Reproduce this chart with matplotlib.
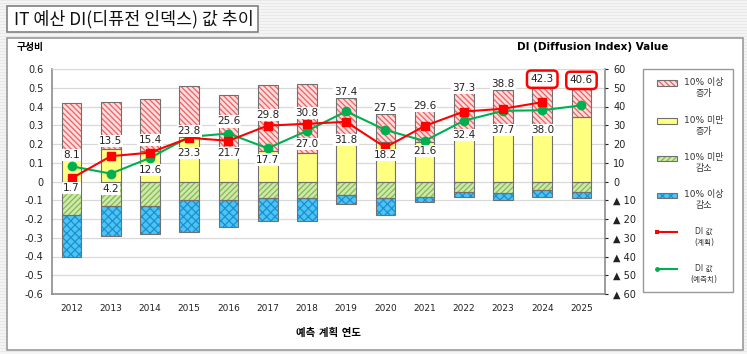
import numpy as np
import matplotlib
matplotlib.use("Agg")
import matplotlib.pyplot as plt
from matplotlib.patches import Rectangle
from matplotlib.lines import Line2D

plt.rcParams['font.family'] = ['DejaVu Sans', 'Noto Sans CJK KR']
plt.rcParams['hatch.linewidth'] = 0.9

# data
years = ['2012', '2013', '2014', '2015', '2016', '2017', '2018',
         '2019', '2020', '2021', '2022', '2023', '2024', '2025']
inc_big = [0.30, 0.25, 0.275, 0.27, 0.285, 0.35, 0.37, 0.21, 0.15, 0.20, 0.20, 0.21, 0.22, 0.155]
inc_small = [0.118, 0.175, 0.165, 0.24, 0.175, 0.163, 0.152, 0.234, 0.21, 0.21, 0.273, 0.28, 0.29, 0.345]
dec_small = [0.18, 0.13, 0.13, 0.10, 0.10, 0.09, 0.09, 0.07, 0.09, 0.08, 0.055, 0.06, 0.045, 0.055]
dec_big = [0.22, 0.16, 0.15, 0.17, 0.14, 0.12, 0.12, 0.05, 0.09, 0.03, 0.025, 0.04, 0.04, 0.035]
di_plan = [1.7, 13.5, 15.4, 23.3, 21.7, 29.8, 30.8, 31.8, 18.2, 29.6, 37.3, 38.8, 42.3]
di_fcst = [8.1, 4.2, 12.6, 23.8, 25.6, 17.7, 27.0, 37.4, 27.5, 21.6, 32.4, 37.7, 38.0, 40.6]

# label offsets (px, + = above marker)
plan_dy = [-9.5, 15, 13, -15, -12, 11, 10.5, -18, -7.5, 20, 24, 25, 23]
fcst_dy = [11, -15, -12, 6, 12, -11.5, -13, 19, 22, -10, -14, -19, -20, 25]
plan_boxed = [12]
fcst_boxed = [13]

W, H = 747, 354
fig = plt.figure(figsize=(W / 100, H / 100), dpi=100)
fig.patch.set_facecolor('#f5f5f5')


def fx(x):
    return x / W


def fy(y):
    return 1 - y / H


# striped background
for yy in range(0, H, 3):
    fig.add_artist(Line2D([0, 1], [fy(yy), fy(yy)], color='#e8e8e8', lw=0.8, zorder=-3))

# white panel
fig.add_artist(Rectangle((fx(7), fy(350)), fx(743) - fx(7), fy(38) - fy(350),
                         facecolor='white', edgecolor='#999999', lw=1.2, zorder=-2))
# title box
fig.add_artist(Rectangle((fx(7), fy(32)), fx(258) - fx(7), fy(6) - fy(32),
                         facecolor='white', edgecolor='#808080', lw=1.2, zorder=-1))
fig.text(fx(14), fy(19.5), 'IT 예산 DI(디퓨전 인덱스) 값 추이', fontsize=12.5,
         family=['Noto Sans CJK KR'], va='center', ha='left', color='#111111')

ax = fig.add_axes([fx(52), fy(294), fx(605) - fx(52), fy(69) - fy(294)])
x = np.arange(len(years))
bw = 0.5

inc_big = np.array(inc_big)
inc_small = np.array(inc_small)
dec_small = np.array(dec_small)
dec_big = np.array(dec_big)

styles = [
    ('#fcdcdc', '#f06060', '\\\\\\\\\\\\'),
    ('#ffff80', '#ffff80', None),
    ('#cfe8ad', '#84bb4c', '//////'),
    ('#4cc4f4', '#1c8fd0', 'xxxx'),
]
segs = [
    (inc_big, inc_small),
    (inc_small, np.zeros(len(x))),
    (-dec_small, np.zeros(len(x))),
    (-dec_big, -dec_small),
]
for (h, b), (fc, hc, hatch) in zip(segs, styles):
    ax.bar(x, h, bw, bottom=b, facecolor=fc, edgecolor=hc, hatch=hatch, lw=0, zorder=2)
    ax.bar(x, h, bw, bottom=b, fill=False, edgecolor='#707070', lw=0.8, zorder=3)

ax.set_ylim(-0.6, 0.6)
ax.set_xlim(-0.5, 13.6)
ax.set_yticks(np.arange(-0.6, 0.61, 0.1))
ax.set_yticklabels(['0' if abs(v) < 1e-9 else f'{v:.1f}' for v in np.arange(-0.6, 0.61, 0.1)])
ax.set_xticks(x)
ax.set_xticklabels(years)
ax.grid(axis='y', color='#d9d9d9', lw=0.9, zorder=0)
ax.set_axisbelow(True)
ax.tick_params(axis='y', length=0, labelsize=7, colors='#222222', pad=6)
ax.tick_params(axis='x', length=0, labelsize=6.5, colors='#222222', pad=7)
for s in ['left', 'bottom', 'right']:
    ax.spines[s].set_color('#8c8c8c')
    ax.spines[s].set_linewidth(1.2)
ax.spines['top'].set_color('#d9d9d9')

ax2 = ax.twinx()
ax2.set_ylim(-60, 60)
rt = np.arange(-60, 61, 10)
ax2.set_yticks(rt)
ax2.set_yticklabels([f'▲ {-v}' if v < 0 else f'{v}' for v in rt])
ax2.tick_params(axis='y', length=2, labelsize=7, colors='#222222', pad=4)
for s in ax2.spines.values():
    s.set_visible(False)

ax2.plot(x[:len(di_plan)], di_plan, color='#ff0000', lw=1.5, marker='s', ms=6, zorder=5)
ax2.plot(x, di_fcst, color='#00b050', lw=1.5, marker='o', ms=6, zorder=4)


def put_labels(vals, dys, boxed):
    for i, (v, dy) in enumerate(zip(vals, dys)):
        if i in boxed:
            bb = dict(boxstyle='round,pad=0.35,rounding_size=0.4', fc='white', ec='#ff0000', lw=1.8)
        else:
            bb = dict(boxstyle='square,pad=0.1', fc='white', ec='none')
        ax2.annotate(f'{v:.1f}', (x[i], v), xytext=(0, dy * 0.72), textcoords='offset points',
                     ha='center', va='center', fontsize=7.5, color='#222222', bbox=bb, zorder=6)


put_labels(di_plan, plan_dy, plan_boxed)
put_labels(di_fcst, fcst_dy, fcst_boxed)

fig.text(fx(17), fy(47), '구성비', fontsize=7, fontweight='bold', va='center', ha='left')
fig.text(fx(668), fy(47), 'DI (Diffusion Index) Value', fontsize=7.5, fontweight='bold',
         va='center', ha='right')
fig.text(fx(328), fy(333), '예측 계획 연도', fontsize=7.5, fontweight='bold', va='center', ha='center')

# legend
fig.add_artist(Rectangle((fx(643), fy(292)), fx(733) - fx(643), fy(69) - fy(292),
                         facecolor='white', edgecolor='#999999', lw=1.0))
leg_y = [83, 121, 158, 195, 233, 270]
leg_txt = ['10% 이상\n증가', '10% 미만\n증가', '10% 미만\n감소', '10% 이상\n감소']
for yy, t, (fc, hc, hatch) in zip(leg_y, leg_txt, styles):
    fig.add_artist(Rectangle((fx(657), fy(yy + 2.5)), fx(20), 5 / H,
                             facecolor=fc, edgecolor=hc, hatch=hatch, lw=0))
    fig.add_artist(Rectangle((fx(657), fy(yy + 2.5)), fx(20), 5 / H,
                             fill=False, edgecolor='#707070', lw=0.8))
    fig.text(fx(704), fy(yy + 5), t, fontsize=6.5, ha='center', va='center',
             linespacing=1.4, color='#333333')
for yy, t, c, m in [(leg_y[4], 'DI 값\n(계획)', '#ff0000', 's'),
                    (leg_y[5], 'DI 값\n(예측치)', '#00b050', 'o')]:
    fig.add_artist(Line2D([fx(657), fx(677)], [fy(yy - 1), fy(yy - 1)], color=c, lw=1.5,
                          marker=m, ms=3.5, markevery=[0], markeredgewidth=0))
    fig.text(fx(704), fy(yy + 4), t, fontsize=5.5, ha='center', va='center',
             linespacing=1.4, color='#333333')

fig.savefig('out.png', dpi=100, facecolor=fig.get_facecolor())
